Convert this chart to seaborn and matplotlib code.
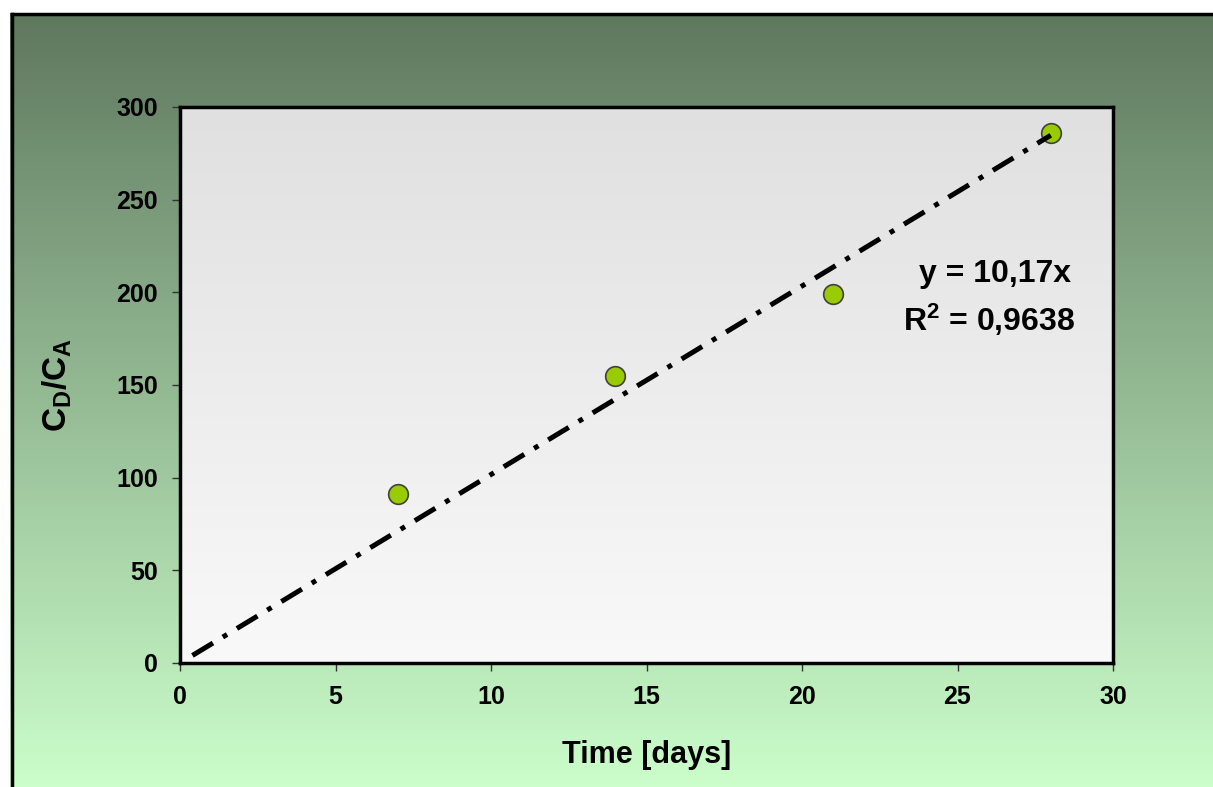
import numpy as np
import matplotlib
matplotlib.use('Agg')
import matplotlib.pyplot as plt
import seaborn as sns

sns.set_style('white')
plt.rcParams['font.family'] = ['Liberation Sans', 'DejaVu Sans']
plt.rcParams['font.weight'] = 'bold'
plt.rcParams['text.color'] = 'black'
plt.rcParams['axes.labelcolor'] = 'black'
plt.rcParams['xtick.color'] = 'black'
plt.rcParams['ytick.color'] = 'black'
plt.rcParams['mathtext.fontset'] = 'custom'
plt.rcParams['mathtext.rm'] = 'Liberation Sans:bold'
plt.rcParams['mathtext.it'] = 'Liberation Sans:bold'
plt.rcParams['mathtext.bf'] = 'Liberation Sans:bold'

# data
days = [7, 14, 21, 28]
ratio = [91, 155, 199, 286]
slope = 10.17          # trendline through origin, as printed on chart
r_squared = '0,9638'
trend_x = [0.4, 28]
x_ticks = [0, 5, 10, 15, 20, 25, 30]
y_ticks = [0, 50, 100, 150, 200, 250, 300]

W, H = 1213, 787
fig = plt.figure(figsize=(W / 100, H / 100), dpi=100)
fig.patch.set_facecolor('white')

# outer background gradient + border
bg = fig.add_axes([0, 0, 1, 1], zorder=-10)
bg.set_xlim(0, 1)
bg.set_ylim(0, 1)
bg.axis('off')
top_c = np.array([0x5f, 0x78, 0x5f]) / 255
bot_c = np.array([0xcb, 0xfe, 0xcb]) / 255
t = np.linspace(0, 1, 256)[:, None]
grad = top_c * (1 - t) + bot_c * t
bg.imshow(grad[:, None, :], extent=(10 / W, 1, 0, 1 - 13 / H), aspect='auto')
bg.plot([11.5 / W, 11.5 / W], [0, 1 - 13.5 / H], color='black', lw=2.5,
        solid_capstyle='projecting')
bg.plot([11.5 / W, 1], [1 - 13.5 / H, 1 - 13.5 / H], color='black', lw=2.5,
        solid_capstyle='projecting')

ax = fig.add_axes([180 / W, 1 - 663 / H, 933 / W, 556 / H])
ax_top = np.array([0xe0, 0xe0, 0xe0]) / 255
ax_bot = np.array([0xf9, 0xf9, 0xf9]) / 255
grad2 = ax_top * (1 - t) + ax_bot * t
ax.imshow(grad2[:, None, :], extent=(0, 1, 0, 1), transform=ax.transAxes,
          aspect='auto', zorder=0)

sns.scatterplot(x=days, y=ratio, ax=ax, s=200, color='#99cc00',
                edgecolor='#404040', linewidth=1.2, zorder=3)
trend_y = [slope * v for v in trend_x]
sns.lineplot(x=trend_x, y=trend_y, ax=ax, color='black', lw=3.6, zorder=4)
ax.lines[-1].set_dashes((4.8, 2.3, 1.0, 2.3))
ax.lines[-1].set_dash_capstyle('butt')

ax.set_xlim(0, 30)
ax.set_ylim(0, 300)
ax.set_xticks(x_ticks)
ax.set_yticks(y_ticks)
ax.tick_params(axis='both', direction='out', length=6, width=1, color='#333333',
               labelcolor='black', labelsize=18, pad=10, bottom=True, left=True)
for lab in ax.get_xticklabels() + ax.get_yticklabels():
    lab.set_fontweight('bold')
for sp in ax.spines.values():
    sp.set_color('black')
    sp.set_linewidth(2.5)
    sp.set_zorder(5)

ax.set_xlabel('Time [days]', fontsize=22, fontweight='bold', labelpad=22,
              color='black')
ax.set_ylabel(r'$\mathrm{C_D/C_A}$', fontsize=24, labelpad=30, color='black')

ax.text(26.2, 210, 'y = 10,17x', fontsize=23, fontweight='bold',
        ha='center', va='center', zorder=6, color='black')
ax.text(26.0, 185, 'R$^2$ = ' + r_squared, fontsize=23, fontweight='bold',
        ha='center', va='center', zorder=6, color='black')

fig.savefig('out.png', dpi=100)
